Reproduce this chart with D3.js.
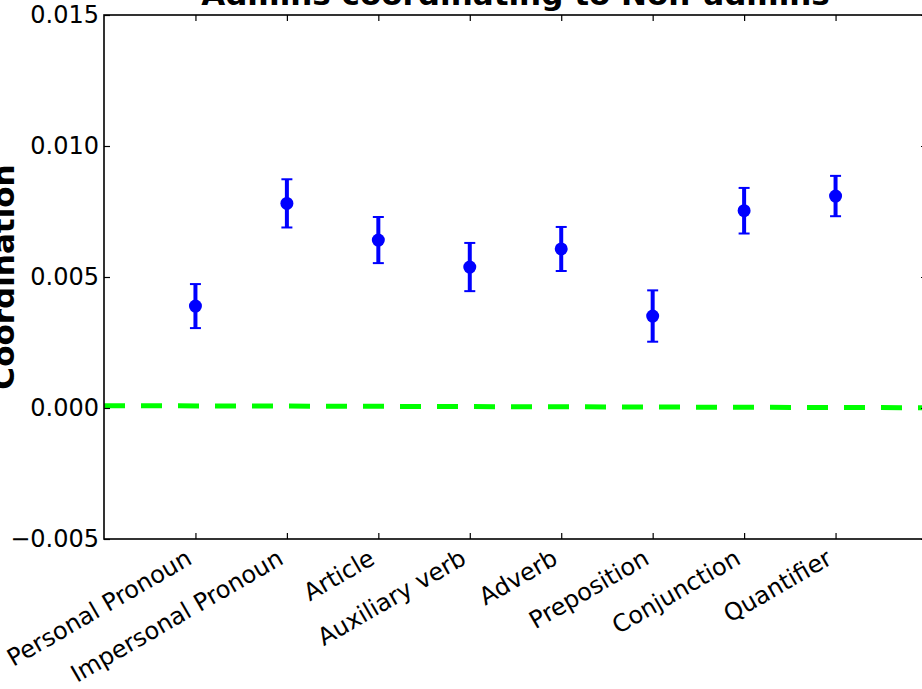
<!DOCTYPE html>
<html>
<head>
<meta charset="utf-8">
<script src="https://cdn.jsdelivr.net/npm/d3@7"></script>
<style>
  body { margin: 0; background: #fff; }
  text { font-family: "DejaVu Sans", sans-serif; }
</style>
</head>
<body>
<svg id="chart" width="922" height="689"></svg>
<script>
// values
const categories = ["Personal Pronoun", "Impersonal Pronoun", "Article", "Auxiliary verb",
                    "Adverb", "Preposition", "Conjunction", "Quantifier"];
const coordination = [0.00389, 0.00781, 0.00641, 0.00538, 0.00607, 0.00351, 0.00753, 0.00809];
const errors = [0.00084, 0.00092, 0.00088, 0.00092, 0.00084, 0.00098, 0.00087, 0.00077];
const baselineX = [0, 9];
const baselineY = [0.00009, 0.00001];
const yTicks = [-0.005, 0.000, 0.005, 0.010, 0.015];

const svg = d3.select("#chart");
const plotL = 104, plotR = 927, plotT = 15, plotB = 539;

const x = d3.scaleLinear().domain([0, 9]).range([plotL, plotR]);
const y = d3.scaleLinear().domain([-0.005, 0.015]).range([plotB, plotT]);
const xTicks = categories.map((c, i) => i + 1);

svg.append("defs").append("clipPath").attr("id", "plot")
    .append("rect").attr("x", plotL).attr("y", plotT)
    .attr("width", plotR - plotL).attr("height", plotB - plotT);

// zero line (green dashed)
const line = d3.line().x(d => x(d[0])).y(d => y(d[1]));
svg.append("path")
    .datum(baselineX.map((v, i) => [v, baselineY[i]]))
    .attr("clip-path", "url(#plot)")
    .attr("d", line)
    .attr("fill", "none")
    .attr("stroke", "#00ff00")
    .attr("stroke-width", 5)
    .attr("stroke-dasharray", "21,16");

// axes, ticks pointing inward
const fmt = d3.format(".3f");
const yAxis = svg.append("g").attr("transform", `translate(${plotL},0)`)
    .call(d3.axisLeft(y).tickValues(yTicks).tickSize(-6).tickPadding(5).tickFormat(fmt));
svg.append("g").attr("transform", `translate(${plotR},0)`)
    .call(d3.axisRight(y).tickValues(yTicks).tickSize(-6).tickFormat(""));
svg.append("g").attr("transform", `translate(0,${plotB})`)
    .call(d3.axisBottom(x).tickValues(xTicks).tickSize(-6).tickFormat(""));
svg.append("g").attr("transform", `translate(0,${plotT})`)
    .call(d3.axisTop(x).tickValues(xTicks).tickSize(-6).tickFormat(""));

svg.selectAll(".domain").remove();
svg.selectAll(".tick line").attr("stroke", "#000").attr("stroke-width", 1.2);
yAxis.selectAll("text").attr("font-size", 24).attr("fill", "#000")
    .attr("font-family", "DejaVu Sans");

svg.append("rect")
    .attr("x", plotL).attr("y", plotT)
    .attr("width", plotR - plotL).attr("height", plotB - plotT)
    .attr("fill", "none").attr("stroke", "#000").attr("stroke-width", 1.6);

// rotated category labels
svg.append("g").selectAll("text").data(categories).enter().append("text")
    .attr("transform", (d, i) => `translate(${x(i + 1) - 2},${plotB + 24}) rotate(-30)`)
    .attr("text-anchor", "end")
    .attr("font-size", 24)
    .text(d => d);

// error bars
const bars = svg.append("g").selectAll("g").data(coordination).enter().append("g");
bars.append("line")
    .attr("x1", (d, i) => x(i + 1)).attr("x2", (d, i) => x(i + 1))
    .attr("y1", (d, i) => y(d - errors[i])).attr("y2", (d, i) => y(d + errors[i]))
    .attr("stroke", "#0000ff").attr("stroke-width", 4);
[-1, 1].forEach(s => {
    bars.append("line")
        .attr("x1", (d, i) => x(i + 1) - 5.5).attr("x2", (d, i) => x(i + 1) + 5.5)
        .attr("y1", (d, i) => y(d + s * errors[i])).attr("y2", (d, i) => y(d + s * errors[i]))
        .attr("stroke", "#0000ff").attr("stroke-width", 2);
});
bars.append("circle")
    .attr("cx", (d, i) => x(i + 1)).attr("cy", d => y(d))
    .attr("r", 6.5).attr("fill", "#0000ff");

// title and y label, both partly cut off by the frame
svg.append("text")
    .attr("x", (plotL + plotR) / 2).attr("y", 5)
    .attr("text-anchor", "middle")
    .attr("font-size", 31).attr("font-weight", "bold")
    .text("Admins coordinating to Non-admins");

svg.append("text")
    .attr("transform", `translate(14,${(plotT + plotB) / 2}) rotate(-90)`)
    .attr("text-anchor", "middle")
    .attr("font-size", 31).attr("font-weight", "bold")
    .text("Coordination");
</script>
</body>
</html>
